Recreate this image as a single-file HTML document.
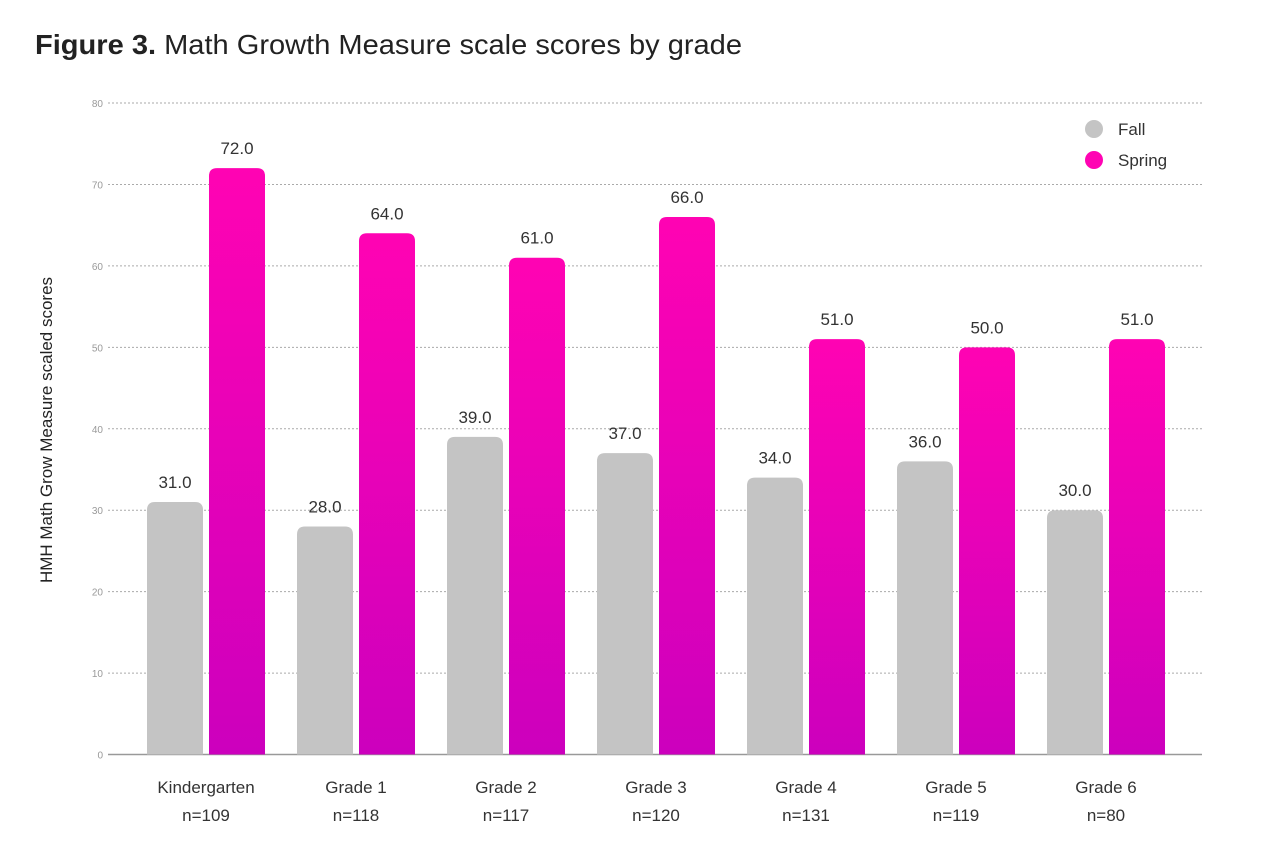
<!DOCTYPE html>
<html><head><meta charset="utf-8"><style>
body{margin:0;background:#fff;font-family:"Liberation Sans",sans-serif}
</style></head><body>
<svg id="chart" width="1280" height="859" xmlns="http://www.w3.org/2000/svg">
<defs><linearGradient id="pg" x1="0" y1="0" x2="0" y2="1"><stop offset="0" stop-color="#ff03b3"/><stop offset="1" stop-color="#cc00bd"/></linearGradient></defs>
<text x="35" y="54" font-size="28" fill="#222" textLength="707" lengthAdjust="spacingAndGlyphs"><tspan font-weight="bold">Figure 3.</tspan> Math Growth Measure scale scores by grade</text>
<text transform="translate(52,430) rotate(-90)" text-anchor="middle" font-size="17" fill="#222">HMH Math Grow Measure scaled scores</text>
<g id="grid"></g><g id="bars"></g>
<circle cx="1094" cy="129" r="9" fill="#c4c4c4"/>
<text x="1118" y="135" font-size="17" fill="#333">Fall</text>
<circle cx="1094" cy="160" r="9" fill="#ff03b3"/>
<text x="1118" y="166" font-size="17" fill="#333">Spring</text>
</svg>
<script>
const categories=["Kindergarten","Grade 1","Grade 2","Grade 3","Grade 4","Grade 5","Grade 6"];
const counts=["n=109","n=118","n=117","n=120","n=131","n=119","n=80"];
const fall=[31,28,39,37,34,36,30];
const spring=[72,64,61,66,51,50,51];
const yTicks=[0,10,20,30,40,50,60,70,80];
const NS="http://www.w3.org/2000/svg";
const y=v=>754.5-v*(651.5/80);
const cx=i=>206+i*150;
function mk(t,a,p){const e=document.createElementNS(NS,t);for(const k in a)e.setAttribute(k,a[k]);p.appendChild(e);return e;}
const grid=document.getElementById('grid'),bars=document.getElementById('bars');
yTicks.forEach(v=>{
 const l=mk('line',{x1:108,x2:1202,y1:y(v),y2:y(v),stroke:v?'#aaa':'#999','stroke-width':v?1:1.5,'stroke-dasharray':v?'2,2':'none'},grid);
 
 
 const t=mk('text',{x:103,y:y(v)+4,'text-anchor':'end','font-size':10,fill:'#999'},grid);t.textContent=v;
 
 
});
function bar(x,v,fill,name){
 const top=y(v),w=56,r=8;
 const p=mk('path',{d:`M${x},754.5 V${top+r} Q${x},${top} ${x+r},${top} H${x+w-r} Q${x+w},${top} ${x+w},${top+r} V754.5 Z`,fill:fill},bars);
 
 
 const t=mk('text',{x:x+w/2,y:top-14,'text-anchor':'middle','font-size':17,fill:'#333'},bars);t.textContent=v.toFixed(1);
 
 
}
categories.forEach((c,i)=>{
 bar(cx(i)-59,fall[i],'#c4c4c4','bar-fall-'+i);
 bar(cx(i)+3,spring[i],'url(#pg)','bar-spring-'+i);
 const t=mk('text',{x:cx(i),y:793,'text-anchor':'middle','font-size':17,fill:'#333'},bars);t.textContent=c;
 
 
 const n=mk('text',{x:cx(i),y:821,'text-anchor':'middle','font-size':17,fill:'#333'},bars);n.textContent=counts[i];
 
 
});
</script>
</body></html>
